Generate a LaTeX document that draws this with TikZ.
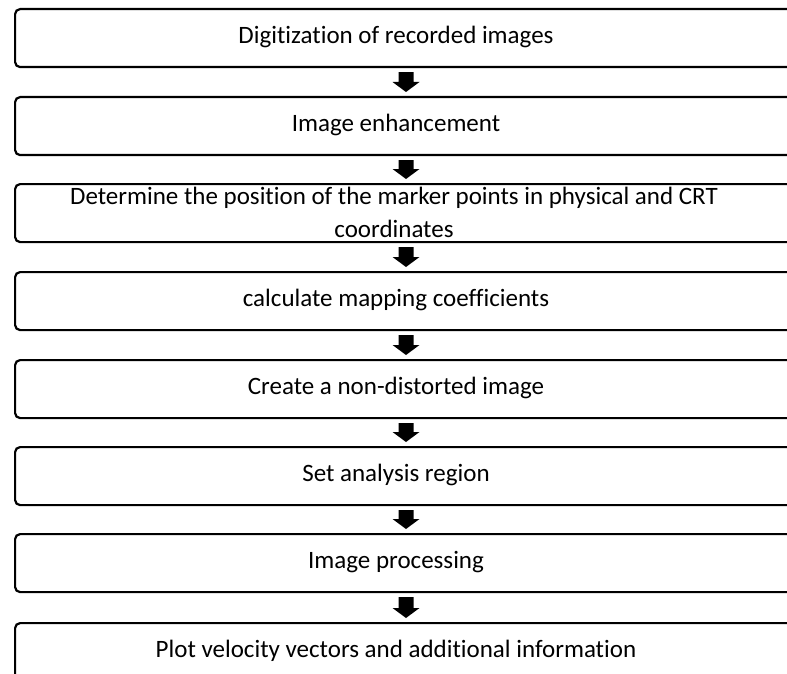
\documentclass[tikz,border=0pt]{standalone}
\usepackage{fontspec}
\setmainfont[Ligatures=NoCommon]{Carlito}
\begin{document}
\begin{tikzpicture}[x=1pt,y=-1pt,
  stepbox/.style={draw=black, line width=2.2pt, rounded corners=5pt, minimum width=800pt, minimum height=58pt, anchor=north west, inner sep=0pt},
  lbl/.style={font=\fontsize{25}{33}\selectfont, align=center, inner sep=0pt},
  blockarrow/.style={fill=black}]
\useasboundingbox (0,0) rectangle (787,674);
\clip (0,0) rectangle (787,674);
\foreach \t [count=\i] in {8,96,183,271,359,446,533,622}{
  \node[stepbox] (b\i) at (14,\t) {};
}
\node[lbl] (t1) at (396,37) {Digitization of recorded images};
\node[lbl] (t2) at (396,125) {Image enhancement};
\node[lbl] (t3) at (394,212) {Determine the position of the marker points in physical and CRT\\coordinates};
\node[lbl] (t4) at (396,300) {calculate mapping coefficients};
\node[lbl] (t5) at (396,388) {Create a non-distorted image};
\node[lbl] (t6) at (396,475) {Set analysis region};
\node[lbl] (t7) at (396,562) {Image processing};
\node[lbl] (t8) at (396,651) {Plot velocity vectors and additional information};
\foreach \a/\b in {1/2,2/3,3/4,4/5,5/6,6/7,7/8}{
  \path (b\a.south) coordinate (s\a);
  \path (b\b.north) coordinate (n\b);
  \fill[blockarrow] ([yshift=-4pt]s\a -| 398.5,0) -- ([yshift=-4pt]s\a -| 413.5,0)
     -- ([yshift=14pt]n\b -| 413.5,0) -- ([yshift=14pt]n\b -| 419.5,0)
     -- ([yshift=4pt]n\b -| 406,0) -- ([yshift=14pt]n\b -| 392.5,0)
     -- ([yshift=14pt]n\b -| 398.5,0) -- cycle;
}
\end{tikzpicture}
\end{document}
